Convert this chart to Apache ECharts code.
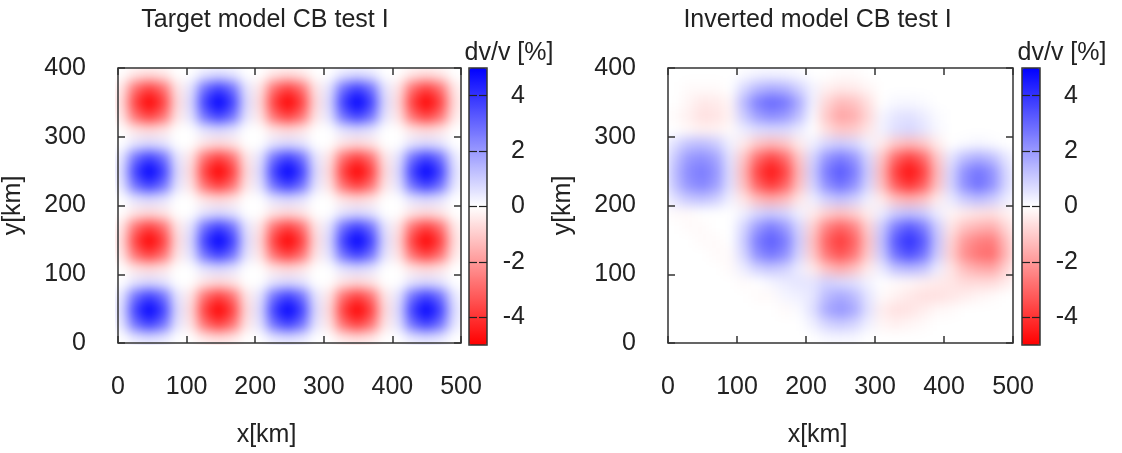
<!DOCTYPE html>
<html><head><meta charset="utf-8">
<script src="https://cdn.jsdelivr.net/npm/echarts@6/dist/echarts.min.js"></script>
<style>
html,body{margin:0;padding:0;background:#fff;}
#wrap{position:relative;width:1122px;height:453px;overflow:hidden;background:#fff;}
#heat{position:absolute;left:0;top:0;width:1122px;height:453px;filter:blur(6px);
 clip-path:polygon(115px 68px,461px 68px,461px 345px,115px 345px,115px 68px,668px 68px,1013px 68px,1013px 345px,668px 345px,668px 68px);}
#main{position:absolute;left:0;top:0;width:1122px;height:453px;}
</style></head><body>
<div id="wrap"><div id="heat"></div><div id="main"></div></div>
<script>
// ---- data ----
const xCenters = [10,30,50,70,90,110,130,150,170,190,210,230,250,270,290,310,330,350,370,390,410,430,450,470,490];
const yCenters = [10,30,50,70,90,110,130,150,170,190,210,230,250,270,290,310,330,350,370,390];
const xTicks = [0,100,200,300,400,500];
const yTicks = [0,100,200,300,400];
const cbTicks = [-4,-2,0,2,4];
const titles = ['Target model CB test I','Inverted model CB test I'];

// rows listed from top (y=390) to bottom (y=10); dv/v in %
const targetRows = [
[0,-0.5,-0.7,-0.5,0, 0,0.5,0.7,0.5,0, 0,-0.5,-0.7,-0.5,0, 0,0.5,0.7,0.5,0, 0,-0.5,-0.7,-0.5,0],
[-0.5,-2.9,-3.8,-2.9,-0.5, 0.5,2.9,3.8,2.9,0.5, -0.5,-2.9,-3.8,-2.9,-0.5, 0.5,2.9,3.8,2.9,0.5, -0.5,-2.9,-3.8,-2.9,-0.5],
[-0.7,-3.8,-5,-3.8,-0.7, 0.7,3.8,5,3.8,0.7, -0.7,-3.8,-5,-3.8,-0.7, 0.7,3.8,5,3.8,0.7, -0.7,-3.8,-5,-3.8,-0.7],
[-0.5,-2.9,-3.8,-2.9,-0.5, 0.5,2.9,3.8,2.9,0.5, -0.5,-2.9,-3.8,-2.9,-0.5, 0.5,2.9,3.8,2.9,0.5, -0.5,-2.9,-3.8,-2.9,-0.5],
[0,-0.5,-0.7,-0.5,0, 0,0.5,0.7,0.5,0, 0,-0.5,-0.7,-0.5,0, 0,0.5,0.7,0.5,0, 0,-0.5,-0.7,-0.5,0],
[0,0.5,0.7,0.5,0, 0,-0.5,-0.7,-0.5,0, 0,0.5,0.7,0.5,0, 0,-0.5,-0.7,-0.5,0, 0,0.5,0.7,0.5,0],
[0.5,2.9,3.8,2.9,0.5, -0.5,-2.9,-3.8,-2.9,-0.5, 0.5,2.9,3.8,2.9,0.5, -0.5,-2.9,-3.8,-2.9,-0.5, 0.5,2.9,3.8,2.9,0.5],
[0.7,3.8,5,3.8,0.7, -0.7,-3.8,-5,-3.8,-0.7, 0.7,3.8,5,3.8,0.7, -0.7,-3.8,-5,-3.8,-0.7, 0.7,3.8,5,3.8,0.7],
[0.5,2.9,3.8,2.9,0.5, -0.5,-2.9,-3.8,-2.9,-0.5, 0.5,2.9,3.8,2.9,0.5, -0.5,-2.9,-3.8,-2.9,-0.5, 0.5,2.9,3.8,2.9,0.5],
[0,0.5,0.7,0.5,0, 0,-0.5,-0.7,-0.5,0, 0,0.5,0.7,0.5,0, 0,-0.5,-0.7,-0.5,0, 0,0.5,0.7,0.5,0],
[0,-0.5,-0.7,-0.5,0, 0,0.5,0.7,0.5,0, 0,-0.5,-0.7,-0.5,0, 0,0.5,0.7,0.5,0, 0,-0.5,-0.7,-0.5,0],
[-0.5,-2.9,-3.8,-2.9,-0.5, 0.5,2.9,3.8,2.9,0.5, -0.5,-2.9,-3.8,-2.9,-0.5, 0.5,2.9,3.8,2.9,0.5, -0.5,-2.9,-3.8,-2.9,-0.5],
[-0.7,-3.8,-5,-3.8,-0.7, 0.7,3.8,5,3.8,0.7, -0.7,-3.8,-5,-3.8,-0.7, 0.7,3.8,5,3.8,0.7, -0.7,-3.8,-5,-3.8,-0.7],
[-0.5,-2.9,-3.8,-2.9,-0.5, 0.5,2.9,3.8,2.9,0.5, -0.5,-2.9,-3.8,-2.9,-0.5, 0.5,2.9,3.8,2.9,0.5, -0.5,-2.9,-3.8,-2.9,-0.5],
[0,-0.5,-0.7,-0.5,0, 0,0.5,0.7,0.5,0, 0,-0.5,-0.7,-0.5,0, 0,0.5,0.7,0.5,0, 0,-0.5,-0.7,-0.5,0],
[0,0.5,0.7,0.5,0, 0,-0.5,-0.7,-0.5,0, 0,0.5,0.7,0.5,0, 0,-0.5,-0.7,-0.5,0, 0,0.5,0.7,0.5,0],
[0.5,2.9,3.8,2.9,0.5, -0.5,-2.9,-3.8,-2.9,-0.5, 0.5,2.9,3.8,2.9,0.5, -0.5,-2.9,-3.8,-2.9,-0.5, 0.5,2.9,3.8,2.9,0.5],
[0.7,3.8,5,3.8,0.7, -0.7,-3.8,-5,-3.8,-0.7, 0.7,3.8,5,3.8,0.7, -0.7,-3.8,-5,-3.8,-0.7, 0.7,3.8,5,3.8,0.7],
[0.5,2.9,3.8,2.9,0.5, -0.5,-2.9,-3.8,-2.9,-0.5, 0.5,2.9,3.8,2.9,0.5, -0.5,-2.9,-3.8,-2.9,-0.5, 0.5,2.9,3.8,2.9,0.5],
[0,0.5,0.7,0.5,0, 0,-0.5,-0.7,-0.5,0, 0,0.5,0.7,0.5,0, 0,-0.5,-0.7,-0.5,0, 0,0.5,0.7,0.5,0]
];

const invertedRows = [
[0,0,0,0,0, 0.1,0.25,0.3,0.25,0.15, 0,0,-0.1,-0.1,0, 0,0,0,0,0, 0,0,0,0,0],
[0,-0.1,-0.1,-0.1,0, 0.75,1.4,1.65,1.5,0.9, 0.25,-0.3,-0.45,-0.4,-0.2, 0,0,0,0,0, 0,0,0,0,0],
[0,-0.2,-0.45,-0.4,-0.2, 1.35,2.55,3.0,2.7,1.65, 0.25,-0.8,-1.35,-1.2,-0.6, 0,0.15,0.15,0.1,0, 0,0,0,0,0],
[-0.1,-0.3,-0.6,-0.55,-0.25, 1.0,1.9,2.25,2.0,1.25, 0.1,-1.1,-1.8,-1.6,-0.8, 0.2,0.5,0.6,0.4,0.1, 0,0,0,0,0],
[0,-0.15,-0.3,-0.25,-0.1, 0.35,0.65,0.75,0.7,0.4, 0,-0.65,-1.1,-1.0,-0.5, 0.25,0.65,0.8,0.55,0.15, 0,0,0,0,0],
[0.65,1.2,1.3,1.0,0.3, -0.4,-1.1,-1.4,-1.1,-0.4, 0.3,0.8,1.0,0.8,0.3, -0.4,-1.1,-1.4,-1.1,-0.4, 0,0.1,0.2,0.1,0],
[1.1,2.0,2.2,1.8,0.55, -1.1,-2.9,-3.7,-2.9,-1.1, 0.8,2.1,2.6,2.1,0.8, -1.1,-3.0,-3.8,-3.0,-1.1, 0.5,1.3,1.6,1.3,0.5],
[1.3,2.3,2.6,2.1,0.65, -1.4,-3.7,-4.6,-3.7,-1.4, 1.0,2.6,3.3,2.6,1.0, -1.4,-3.8,-4.7,-3.8,-1.4, 0.8,2.2,2.75,2.2,0.8],
[1.2,2.1,2.4,1.9,0.6, -1.2,-3.1,-3.9,-3.1,-1.2, 0.8,2.2,2.8,2.2,0.8, -1.2,-3.2,-4.0,-3.2,-1.2, 0.8,2.2,2.8,2.2,0.8],
[0.6,1.05,1.2,0.95,0.3, -0.5,-1.3,-1.6,-1.3,-0.5, 0.3,0.9,1.2,0.9,0.3, -0.4,-1.2,-1.5,-1.2,-0.4, 0.4,1.0,1.3,1.0,0.4],
[-0.1,-0.1,0,0,0, 0.3,0.8,1.0,0.8,0.3, -0.35,-0.9,-1.2,-0.9,-0.35, 0.35,1.0,1.2,1.0,0.35, -0.2,-0.4,-0.55,-0.6,-0.3],
[0,-0.1,-0.1,0,0, 0.8,2.0,2.6,2.0,0.8, -0.9,-2.5,-3.1,-2.5,-0.9, 1.0,2.6,3.3,2.6,1.0, -0.5,-1.2,-1.5,-1.6,-0.8],
[0,0,-0.1,-0.1,0, 1.0,2.6,3.2,2.6,1.0, -1.2,-3.1,-3.9,-3.1,-1.2, 1.2,3.3,4.1,3.3,1.2, -0.8,-2.0,-2.5,-2.6,-1.3],
[0,0,0,-0.1,-0.1, 0.8,2.2,2.7,2.2,0.8, -1.0,-2.7,-3.4,-2.7,-1.0, 1.0,2.8,3.5,2.8,1.0, -0.9,-2.2,-2.75,-2.9,-1.45],
[0,0,0,0,-0.1, 0.35,0.9,1.1,0.9,0.35, -0.4,-1.2,-1.6,-1.2,-0.4, 0.4,1.2,1.4,1.2,0.4, -0.5,-1.3,-1.65,-1.75,-0.9],
[0,0,0,0,0, -0.1,0,0.2,0.4,0.5, 0.5,0.9,0.75,0.6,0.25, 0,-0.1,-0.15,-0.3,-0.4, -0.5,-0.7,-0.7,-0.7,-0.4],
[0,0,0,0,0, 0,-0.1,-0.1,0.2,0.3, 0.5,1.35,1.7,1.35,0.5, -0.1,-0.25,-0.45,-0.6,-0.6, -0.5,-0.35,-0.2,-0.1,0],
[0,0,0,0,0, 0,0,0,-0.1,0.1, 0.6,1.7,2.1,1.7,0.6, -0.35,-0.6,-0.55,-0.35,-0.15, -0.1,0,0,0,0],
[0,0,0,0,0, 0,0,0,0,0, 0.3,0.85,1.05,0.85,0.3, -0.2,-0.3,-0.2,-0.1,0, 0,0,0,0,0],
[0,0,0,0,0, 0,0,0,0,0, 0,0.15,0.2,0.15,0, 0,0,0,0,0, 0,0,0,0,0]
];

// ---- styling ----
const FONT = '"Liberation Sans", Arial, sans-serif';
const TXT = '#222';
const FRAME = '#333';
const COLORS = ['#ff0000', '#ffffff', '#0000ff'];
const PLOTS = [{left:115, top:68, width:346, height:277}, {left:668, top:68, width:345, height:277}];
const CBARS = [{left:469, top:68, width:18, height:277}, {left:1022, top:68, width:18, height:277}];

function toCells(rows) {
  const out = [];
  rows.forEach((row, r) => {
    const yi = rows.length - 1 - r;
    row.forEach((v, c) => out.push([c, yi, v]));
  });
  return out;
}

// ---- heat layer (smoothed) ----
const heat = echarts.init(document.getElementById('heat'), null, {renderer: 'canvas'});
heat.setOption({
  animation: false,
  backgroundColor: '#ffffff',
  grid: PLOTS.map(p => Object.assign({}, p)),
  xAxis: PLOTS.map((p, i) => ({gridIndex: i, type: 'category', data: xCenters, show: false})),
  yAxis: PLOTS.map((p, i) => ({gridIndex: i, type: 'category', data: yCenters, show: false})),
  visualMap: {show: false, type: 'continuous', min: -5, max: 5, seriesIndex: [0, 1], inRange: {color: COLORS}},
  series: [
    {type: 'heatmap', xAxisIndex: 0, yAxisIndex: 0, data: toCells(targetRows), progressive: 0},
    {type: 'heatmap', xAxisIndex: 1, yAxisIndex: 1, data: toCells(invertedRows), progressive: 0}
  ]
});

// ---- frame, axes, colorbars, texts ----
const main = echarts.init(document.getElementById('main'), null, {renderer: 'canvas'});
const lbl = {fontSize: 25, color: TXT, fontFamily: FONT};
const tickStyle = {color: FRAME, width: 1.5};
const inTick = {show: true, inside: true, length: 7, lineStyle: tickStyle};
const noLine = {show: false, onZero: false};
const grids = [], xAxes = [], yAxes = [], vms = [], graphics = [];

PLOTS.forEach((p, i) => {
  grids.push(Object.assign({show: true, borderColor: FRAME, borderWidth: 1.5, backgroundColor: 'transparent'}, p));
  xAxes.push({gridIndex: i, type: 'value', min: xTicks[0], max: xTicks[xTicks.length-1], interval: 100, position: 'bottom',
    axisLine: noLine, splitLine: {show: false}, axisTick: inTick,
    axisLabel: Object.assign({margin: 32}, lbl),
    name: 'x[km]', nameLocation: 'middle', nameGap: 80,
    nameTextStyle: Object.assign({padding: [0, 46, 0, 0]}, lbl)});
  xAxes.push({gridIndex: i, type: 'value', min: xTicks[0], max: xTicks[xTicks.length-1], interval: 100, position: 'top',
    axisLine: noLine, splitLine: {show: false}, axisTick: inTick, axisLabel: {show: false}});
  yAxes.push({gridIndex: i, type: 'value', min: yTicks[0], max: yTicks[yTicks.length-1], interval: 100, position: 'left',
    axisLine: noLine, splitLine: {show: false}, axisTick: inTick,
    axisLabel: Object.assign({margin: 32}, lbl),
    name: 'y[km]', nameLocation: 'middle', nameGap: 92, nameRotate: 90, nameTextStyle: lbl});
  yAxes.push({gridIndex: i, type: 'value', min: yTicks[0], max: yTicks[yTicks.length-1], interval: 100, position: 'right',
    axisLine: noLine, splitLine: {show: false}, axisTick: inTick, axisLabel: {show: false}});
  graphics.push({type: 'text', x: p.left + p.width / 2 - 23, y: 20,
    style: {text: titles[i], fill: TXT, font: '25px ' + FONT, textAlign: 'center', textVerticalAlign: 'middle'}});
});

const cbTick = {show: true, inside: true, length: 8, customValues: cbTicks, lineStyle: {color: '#222', width: 1.2}};
CBARS.forEach((c, k) => {
  const gi = PLOTS.length + k;
  grids.push(Object.assign({show: true, borderColor: FRAME, borderWidth: 1.5, backgroundColor: 'transparent', z: 6}, c));
  xAxes.push({gridIndex: gi, type: 'value', min: 0, max: 1, show: false});
  yAxes.push({gridIndex: gi, type: 'value', min: -5, max: 5, position: 'right', z: 6,
    axisLine: noLine, splitLine: {show: false}, axisTick: cbTick,
    axisLabel: Object.assign({customValues: cbTicks, align: 'right', margin: 38}, lbl)});
  yAxes.push({gridIndex: gi, type: 'value', min: -5, max: 5, position: 'left', z: 6,
    axisLine: noLine, splitLine: {show: false}, axisTick: cbTick,
    axisLabel: {show: false}});
  vms.push({type: 'continuous', min: -5, max: 5, left: c.left, top: c.top, itemWidth: c.width, itemHeight: c.height,
    padding: 0, calculable: false, seriesIndex: [], hoverLink: false, z: 1, inRange: {color: COLORS}});
  graphics.push({type: 'text', x: c.left + c.width / 2 + 31, y: 53,
    style: {text: 'dv/v [%]', fill: TXT, font: '25px ' + FONT, textAlign: 'center', textVerticalAlign: 'middle'}});
});

main.setOption({
  animation: false,
  backgroundColor: 'transparent',
  grid: grids, xAxis: xAxes, yAxis: yAxes, visualMap: vms,
  graphic: graphics,
  series: []
});
</script>
</body></html>
